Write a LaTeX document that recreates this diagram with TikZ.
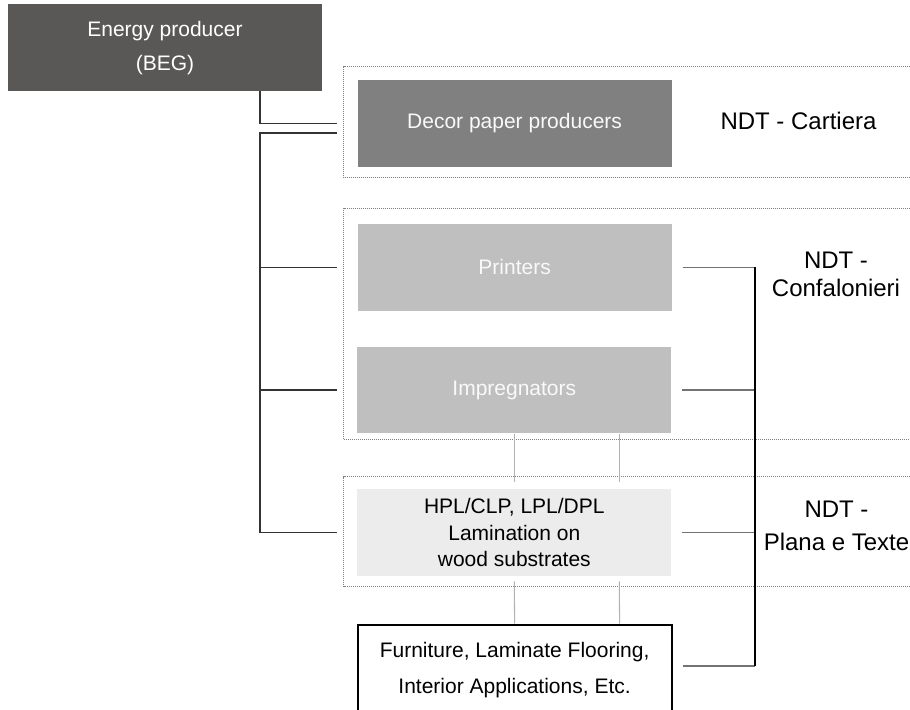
\documentclass[tikz,border=0pt]{standalone}
\usepackage{fontspec}
\setmainfont{Liberation Sans}

\definecolor{begGray}{RGB}{89,88,86}
\definecolor{decorGray}{RGB}{128,128,128}
\definecolor{printGray}{RGB}{191,191,191}
\definecolor{laminGray}{RGB}{236,236,236}

\begin{document}
\begin{tikzpicture}[x=0.75pt,y=-0.75pt,
  box/.style={minimum width=235.5pt,minimum height=65pt,inner sep=0pt,align=center,
    font=\fontsize{15.75pt}{20pt}\selectfont},
  ndt/.style={align=center,inner sep=0pt,font=\fontsize{18pt}{21pt}\selectfont},
  frame/.style={draw=gray,line width=0.75pt,dash pattern=on 0.75pt off 0.75pt},
  tree/.style={draw=black!80,line width=1.1pt},
  feed/.style={draw=black!55,line width=1.1pt},
  bus/.style={draw=black,line width=0.8pt},
  link/.style={draw=black!30,line width=0.8pt}]
\clip (0,0) rectangle (910,710);

\draw[frame] (920,67) -- (343.5,67) -- (343.5,177.5) -- (920,177.5);
\draw[frame] (920,208.3) -- (343.5,208.3) -- (343.5,439) -- (920,439);
\draw[frame] (920,476.7) -- (343.5,476.7) -- (343.5,586.5) -- (920,586.5);

\node[box,fill=begGray,text=white,font=\fontsize{15.75pt}{25.5pt}\selectfont] (beg) at (165,47.6) {Energy producer\\(BEG)};
\node[box,fill=decorGray,text=white!95!gray] (decor) at (514.6,123.3) {Decor paper producers};
\node[box,fill=printGray,text=white!95!gray] (printers) at (514.6,267.3) {Printers};
\node[box,fill=printGray,text=white!95!gray] (impreg) at (514.3,390) {Impregnators};
\node[box,fill=laminGray] (lamin) at (514.3,532.5) {HPL/CLP, LPL/DPL\\Lamination on\\wood substrates};
\node[box,draw,line width=1.5pt,fill=white,minimum height=68pt,
  font=\fontsize{15.75pt}{27.5pt}\selectfont] (furn) at (514.6,670) {Furniture, Laminate Flooring,\\Interior Applications, Etc.};

\node[ndt,anchor=base] (cartiera) at (798.5,129.3) {NDT - Cartiera};
\node[ndt,anchor=north] (confalonieri) at (836,252) {NDT -\\Confalonieri};
\node[ndt,anchor=north,font=\fontsize{18pt}{24.2pt}\selectfont] (plana) at (836.5,501) {NDT -\\Plana e Texte};

% left tree
\coordinate (split) at (260,133);
\draw[tree] (beg.south -| split) |- ([xshift=-15pt]decor.west);
\draw[tree] ([xshift=-15pt]decor.west |- split) -- (split) |- ([xshift=-15pt]lamin.west);
\foreach \n in {printers,impreg}
  \draw[tree] (split |- \n.west) -- ([xshift=-15pt]\n.west);

% right side
\coordinate (bus) at (755,0);
\foreach \n in {printers,impreg,lamin}
  \draw[feed] ([xshift=8pt]\n.east) -- (bus |- \n.east);
\draw[feed] ([xshift=8pt,yshift=3pt]furn.east) -- (bus |- 0,666);
\draw[bus] (bus |- printers.east) -- (bus |- 0,666);

\foreach \dx in {0pt,78.75pt}{
  \draw[link] ([xshift=\dx]impreg.south) -- ([xshift=\dx,yshift=5pt]lamin.north);
  \draw[link] ([xshift=\dx,yshift=-4pt]lamin.south) -- ([xshift=\dx]furn.north);
}
\end{tikzpicture}
\end{document}
